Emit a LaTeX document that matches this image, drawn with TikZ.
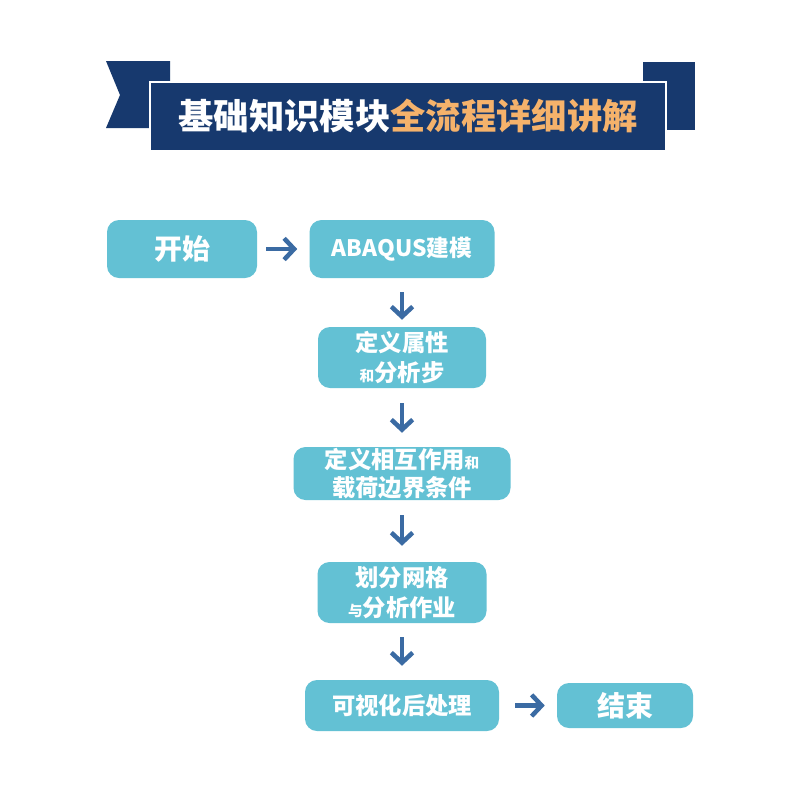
\documentclass[tikz,border=0pt]{standalone}
\usepackage{fontspec}
\setmainfont{Noto Sans CJK SC}
\usetikzlibrary{arrows.meta}
\definecolor{navy}{HTML}{17396E}
\definecolor{orangetxt}{HTML}{F5B26B}
\definecolor{boxblue}{HTML}{63C1D4}
\definecolor{arrowblue}{HTML}{3B6BA3}
\newcommand{\smallch}[1]{{\fontsize{11pt}{12pt}\selectfont #1}}
\tikzset{
  flowbox/.style={fill=boxblue, rounded corners=9pt, text=white, align=center, inner sep=0pt},
  flowarrow/.style={draw=arrowblue, line width=3.4pt, -{Straight Barb[length=7.5pt,width=16pt,line width=3.4pt]}},
  bigfont/.style={font=\fontsize{21pt}{22pt}\selectfont\bfseries},
  midfont/.style={font=\fontsize{17.5pt}{20pt}\selectfont\bfseries}
}
\begin{document}
\begin{tikzpicture}[x=0.75pt,y=-0.75pt]
\useasboundingbox (0,0) rectangle (800,800);
\fill[white] (0,0) rectangle (800,800);
% banner tails
\fill[navy] (106,61) -- (170,61) -- (170,128) -- (106,128) -- (120,95) -- cycle;
\fill[navy] (643,62) -- (695,62) -- (695,130) -- (643,130) -- cycle;
% main banner
\fill[navy, draw=white, line width=2pt] (150,82) rectangle (666,151);
\node[font=\fontsize{26.5pt}{28pt}\selectfont\bfseries] (title) at (408,116) {\textcolor{white}{基础知识模块}\textcolor{orangetxt}{全流程详细讲解}};
% boxes
\node[flowbox, bigfont, minimum width=150*0.75pt, minimum height=58*0.75pt] (start) at (182,249) {开始};
\node[flowbox, font=\fontsize{17pt}{18pt}\selectfont\bfseries, minimum width=185*0.75pt, minimum height=58*0.75pt] (model) at (402,249) {ABAQUS建模};
\node[flowbox, midfont, minimum width=168*0.75pt, minimum height=61*0.75pt] (prop) at (402,357.5) {定义属性\\[2pt]\smallch{和}分析步};
\node[flowbox, midfont, minimum width=217*0.75pt, minimum height=53*0.75pt] (inter) at (402,473.5) {定义相互作用\smallch{和}\\[1pt]载荷边界条件};
\node[flowbox, midfont, minimum width=169*0.75pt, minimum height=61*0.75pt] (mesh) at (402,592.5) {划分网格\\[2pt]\smallch{与}分析作业};
\node[flowbox, midfont, minimum width=194*0.75pt, minimum height=51*0.75pt] (post) at (402,705.5) {可视化后处理};
\node[flowbox, bigfont, minimum width=136*0.75pt, minimum height=45*0.75pt] (end) at (625,705.5) {结束};
% arrows
\draw[flowarrow] ([xshift=9*0.75pt]start.east) -- ([xshift=-12*0.75pt]model.west);
\draw[flowarrow] ([yshift=-14*0.75pt]model.south) -- ([yshift=7*0.75pt]prop.north);
\draw[flowarrow] ([yshift=-15*0.75pt]prop.south) -- ([yshift=14*0.75pt]inter.north);
\draw[flowarrow] ([yshift=-15*0.75pt]inter.south) -- ([yshift=16*0.75pt]mesh.north);
\draw[flowarrow] ([yshift=-14*0.75pt]mesh.south) -- ([yshift=14*0.75pt]post.north);
\draw[flowarrow] ([xshift=16*0.75pt]post.east) -- ([xshift=-12*0.75pt]end.west);
\end{tikzpicture}
\end{document}
